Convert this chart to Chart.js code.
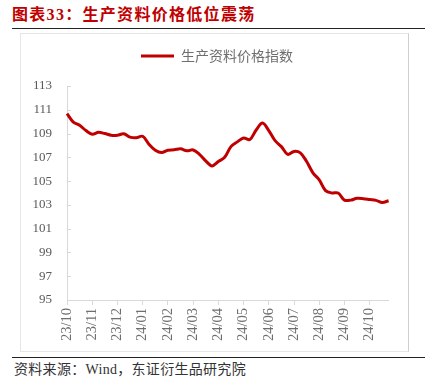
<!DOCTYPE html>
<html>
<head>
<meta charset="utf-8">
<script src="https://cdn.jsdelivr.net/npm/chart.js@4.4.1/dist/chart.umd.min.js"></script>
<style>
  html, body { margin:0; padding:0; background:#fff; }
  body { width:425px; height:390px; position:relative; overflow:hidden; }
  #title { position:absolute; left:12px; top:5px; font-family:"Liberation Serif","Noto Sans CJK SC",serif; font-weight:bold; font-size:16px; letter-spacing:1.3px; color:#C00000; white-space:nowrap; line-height:20px; }
  #topline { position:absolute; left:12px; top:28px; width:413px; height:0; border-top:1.5px solid #222; }
  #box { position:absolute; left:20px; top:33px; width:389px; height:319px; box-sizing:border-box; border:1px solid #E6E6E6; border-right-color:#CFCFCF; }
  #chart { position:absolute; left:20px; top:33px; }
  #botline { position:absolute; left:12px; top:357px; width:413px; height:0; border-top:1.5px solid #222; }
  #source { position:absolute; left:14px; top:361px; font-family:"Liberation Serif","Noto Sans CJK SC",serif; font-size:14px; letter-spacing:0.3px; color:#333; white-space:nowrap; line-height:18px; }
</style>
</head>
<body>
<div id="title">图表33：生产资料价格低位震荡</div>
<div id="topline"></div>
<div id="box"></div>
<canvas id="chart" width="389" height="319"></canvas>
<div id="botline"></div>
<div id="source">资料来源：Wind，东证衍生品研究院</div>
<script>
// Month tick labels (one every 4 observations)
const tickLabels = ['23/10','23/11','23/12','24/01','24/02','24/03','24/04','24/05','24/06','24/07','24/08','24/09','24/10'];
const seriesName = '生产资料价格指数';
// Weekly index values
const indexValues = [
  110.68, 109.97, 109.70, 109.25, 108.95, 109.10, 109.00, 108.86,
  108.86, 108.98, 108.70, 108.65, 108.77, 108.10, 107.60, 107.40,
  107.60, 107.63, 107.72, 107.55, 107.62, 107.25, 106.70, 106.28,
  106.65, 107.00, 107.90, 108.30, 108.62, 108.50, 109.30, 109.88,
  109.25, 108.40, 107.90, 107.25, 107.50, 107.38, 106.65, 105.70,
  105.10, 104.20, 104.00, 104.00, 103.40, 103.40, 103.55, 103.52,
  103.45, 103.38, 103.20, 103.35
];
const yTicks = { min: 95, max: 113, step: 2 };

const categories = indexValues.map((v, i) => (i % 4 === 0 && tickLabels[i / 4]) ? tickLabels[i / 4] : '');

const innerTicks = {
  id: 'innerTicks',
  afterDatasetsDraw(chart) {
    const y = chart.scales.y, ctx = chart.ctx, x0 = chart.chartArea.left;
    ctx.save();
    ctx.strokeStyle = '#D9D9D9';
    ctx.lineWidth = 1;
    y.ticks.forEach((t, i) => {
      const py = Math.round(y.getPixelForTick(i)) + 0.5;
      ctx.beginPath(); ctx.moveTo(x0, py); ctx.lineTo(x0 + 4, py); ctx.stroke();
    });
    ctx.restore();
  }
};
const legendSpace = {
  id: 'legendSpace',
  beforeInit(chart) {
    const orig = chart.legend.fit;
    chart.legend.fit = function () { orig.call(this); this.height = 47; };
  },
  afterLayout(chart) {
    chart.legend.left += 12;
    chart.legend.right += 12;
  }
};

new Chart(document.getElementById('chart'), {
  type: 'line',
  data: {
    labels: categories,
    datasets: [{
      label: seriesName,
      data: indexValues,
      borderColor: '#C00000',
      backgroundColor: '#C00000',
      borderWidth: 3,
      pointRadius: 0,
      tension: 0.35,
      fill: false
    }]
  },
  options: {
    responsive: false,
    animation: false,
    layout: { padding: { top: 6, right: 19, left: 0, bottom: 0 } },
    plugins: {
      legend: {
        display: true,
        position: 'top',
        labels: {
          usePointStyle: true,
          pointStyle: 'line',
          pointStyleWidth: 33,
          boxHeight: 14,
          color: '#6E6E6E',
          font: { family: '"Noto Sans CJK SC", sans-serif', size: 14 }
        }
      },
      tooltip: { enabled: false }
    },
    scales: {
      x: {
        type: 'category',
        offset: false,
        afterFit: s => { s.height = 52; },
        grid: {
          display: true,
          drawOnChartArea: false,
          drawTicks: true,
          tickLength: 5,
          color: c => (c.tick && c.tick.label) ? '#D9D9D9' : 'rgba(0,0,0,0)'
        },
        border: { display: true, color: '#D9D9D9', width: 1 },
        ticks: {
          autoSkip: false,
          maxRotation: 90,
          minRotation: 90,
          padding: 3,
          color: '#6E6E6E',
          font: { family: '"Liberation Serif", serif', size: 14.5 }
        }
      },
      y: {
        min: yTicks.min,
        max: yTicks.max,
        afterFit: s => { s.width = 47; },
        grid: { display: false, drawTicks: false },
        border: { display: true, color: '#D9D9D9', width: 1 },
        ticks: {
          stepSize: yTicks.step,
          padding: 15,
          color: '#595959',
          font: { family: '"Liberation Serif", serif', size: 13 }
        }
      }
    }
  },
  plugins: [innerTicks, legendSpace]
});
</script>
</body>
</html>
